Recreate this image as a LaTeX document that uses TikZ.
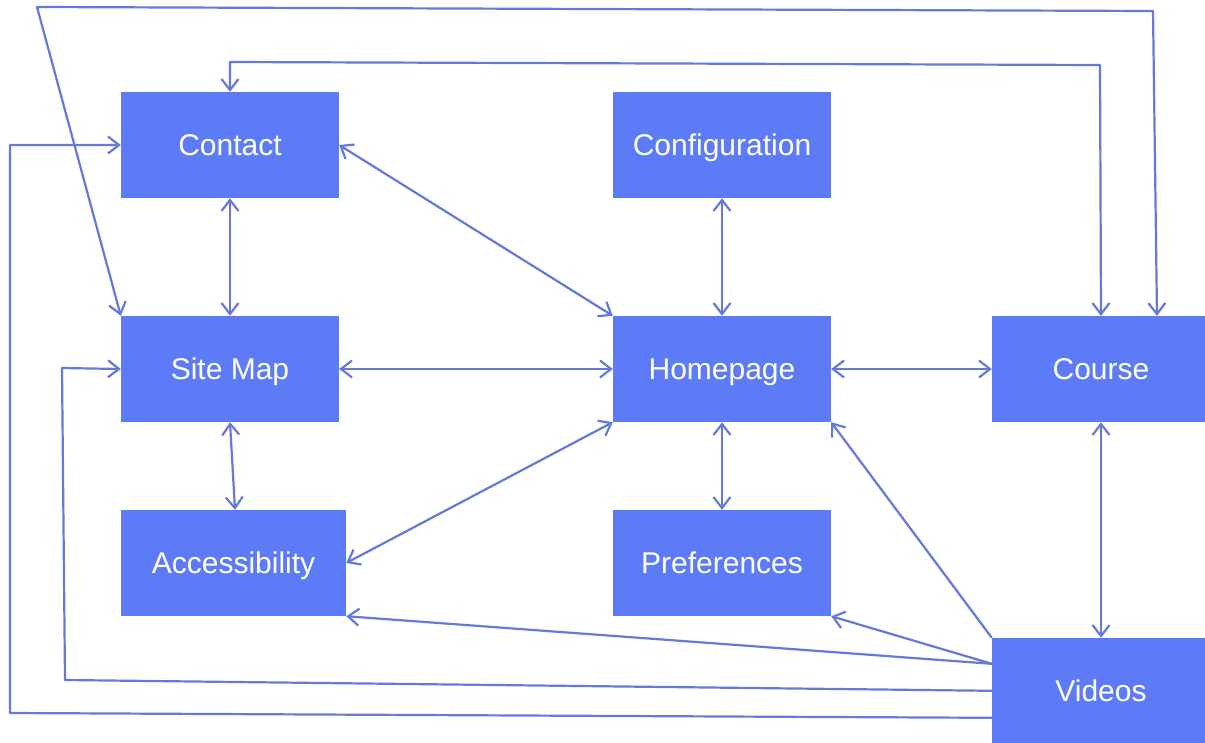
\documentclass[tikz,border=0pt]{standalone}
\usepackage{fontspec}
\setmainfont{Liberation Sans}
\usetikzlibrary{arrows.meta,calc}
\definecolor{boxblue}{HTML}{5E7BF7}
\definecolor{linkblue}{HTML}{6479D9}
\tikzset{
  page/.style={fill=boxblue, text=white, minimum width=218pt, minimum height=106pt,
    inner sep=0pt, text height=21.5pt, text depth=0pt,
    font=\fontsize{30}{34}\selectfont},
  link/.style={draw=linkblue, line width=2.2pt, line join=round},
  >={Straight Barb[length=11pt,width=17pt,line width=2.2pt]}
}
\begin{document}
\begin{tikzpicture}[x=1pt,y=-1pt]
  \useasboundingbox (0,0) rectangle (1205,742);
  \fill[white] (0,0) rectangle (1205,742);
  \clip (0,0) rectangle (1205,742);

  % pages of the site
  \node[page] (contact) at (230,145) {Contact};
  \node[page] (config)  at (722,145) {Configuration};
  \node[page] (sitemap) at (230,369) {Site Map};
  \node[page] (home)    at (722,369) {Homepage};
  \node[page] (course)  at (1101,369) {Course};
  \node[page, minimum width=225pt] (access) at (233.5,563) {Accessibility};
  \node[page] (prefs)   at (722,563) {Preferences};
  \node[page] (videos)  at (1101,691) {Videos};

  % waypoints of the routed links
  \coordinate (vA) at ($(videos.north west)+(0,26)$);
  \coordinate (vB) at ($(videos.north west)+(0,53)$);
  \coordinate (vC) at ($(videos.north west)+(0,80)$);
  \coordinate (s1) at (65,680);
  \coordinate (s2) at (62,368);
  \coordinate (c1) at (10,713);
  \coordinate (c2) at (10,145);
  \coordinate (t1) at (230,62);
  \coordinate (t2) at (1100,65);
  \coordinate (cTop) at (course.north);
  \coordinate (u1) at (37,7);
  \coordinate (u2) at (1153,11);
  \coordinate (cTopR) at ($(course.north)+(56,0)$);
  \coordinate (accTop) at ($(access.north)+(1.5,0)$);

  % two-way links
  \draw[link,<->] (contact) -- (sitemap);
  \draw[link,<->] (sitemap.south) -- (accTop);
  \draw[link,<->] (contact.east) -- (home.north west);
  \draw[link,<->] (sitemap) -- (home);
  \draw[link,<->] (home) -- (course);
  \draw[link,<->] (home) -- (config);
  \draw[link,<->] (home) -- (prefs);
  \draw[link,<->] (home.south west) -- (access.east);
  \draw[link,<->] (course) -- (videos);
  \draw[link,<->] (contact.north) -- (t1) -- (t2) -- (cTop);
  \draw[link,<->] (sitemap.north west) -- (u1) -- (u2) -- (cTopR);

  % links leaving Videos
  \draw[link,->] (videos.north west) -- (home.south east);
  \draw[link,->] (vA) -- (prefs.south east);
  \draw[link,->] (vA) -- (access.south east);
  \draw[link,->] (vB) -- (s1) -- (s2) -- (sitemap.west);
  \draw[link,->] (vC) -- (c1) -- (c2) -- (contact.west);
\end{tikzpicture}
\end{document}
